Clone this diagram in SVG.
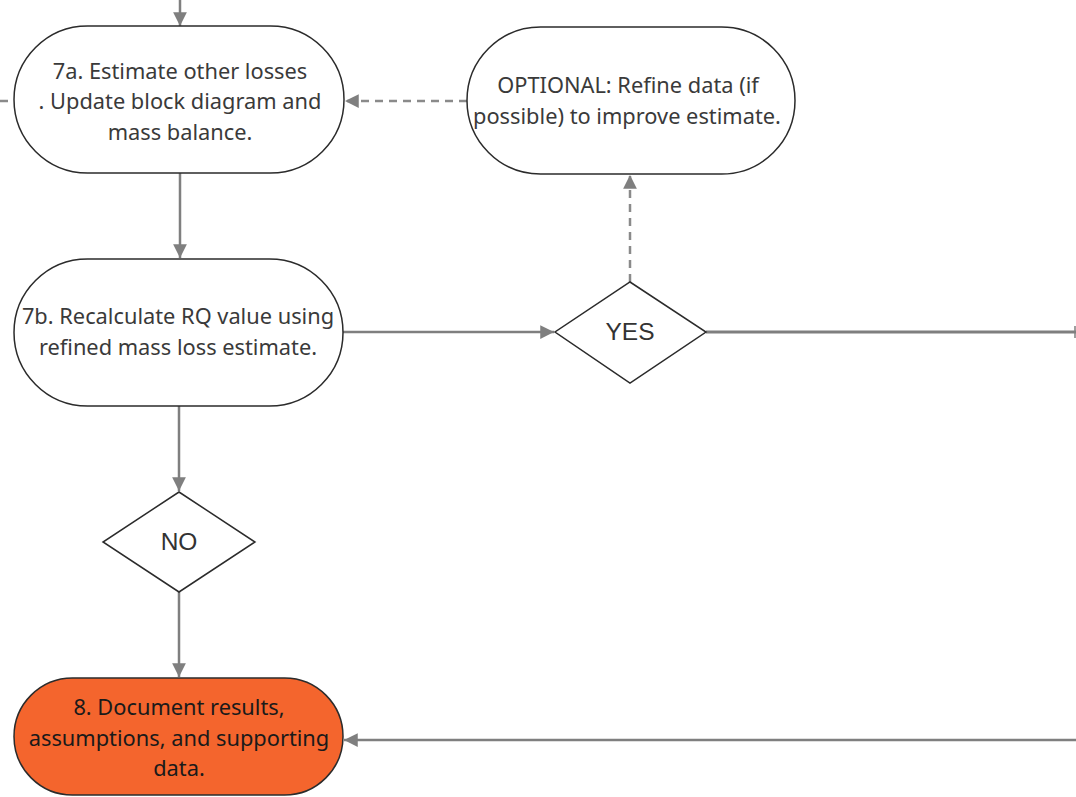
<svg xmlns="http://www.w3.org/2000/svg" width="1076" height="797" viewBox="0 0 1076 797">
<style>
.node{fill:#fff;stroke:#2b2b2b;stroke-width:1.5}
.orange{fill:#F4652D;stroke:#2b2b2b;stroke-width:1.5}
.t{font-family:"Noto Sans","Open Sans",sans-serif;font-size:21.8px;fill:#3a3a3a;text-anchor:middle}
.td{font-family:"Noto Sans","Open Sans",sans-serif;font-size:21.8px;fill:#1a1a1a;text-anchor:middle}
.dt{font-family:"Liberation Sans",Arial,sans-serif;font-size:24.5px;fill:#333;text-anchor:middle}
.c{fill:none;stroke:#7f7f7f;stroke-width:2.5}
.d{fill:none;stroke:#8a8a8a;stroke-width:2.5;stroke-dasharray:8 6}
</style>
<defs>
<marker id="ah" viewBox="0 0 10 10" refX="10" refY="5" markerWidth="5.5" markerHeight="5.5" markerUnits="strokeWidth" orient="auto">
<path d="M0,0 L10,5 L0,10 z" fill="#7f7f7f"/>
</marker>
</defs>
<g id="connectors">
<path class="c" d="M180,0 V26" marker-end="url(#ah)"/>
<path class="d" d="M0,101 H14"/>
<path class="d" d="M467,101 H345" marker-end="url(#ah)"/>
<path class="c" d="M180,173 V258" marker-end="url(#ah)"/>
<path class="c" d="M343,332 H554" marker-end="url(#ah)"/>
<path class="d" d="M630,282 V175" marker-end="url(#ah)"/>
<path class="c" d="M706,332 H1076" style="stroke-width:3"/>
<path class="c" d="M1075,326 V338" style="stroke-width:1.5"/>
<path class="c" d="M179,406 V491" marker-end="url(#ah)"/>
<path class="c" d="M179,592 V677" marker-end="url(#ah)"/>
<path class="c" d="M1076,740 H344" marker-end="url(#ah)"/>
</g>
<g id="n7a">
<rect class="node" x="14" y="26" width="330" height="147" rx="73.5"/>
<text class="t" x="180" y="79">7a. Estimate other losses</text>
<text class="t" x="180" y="109">. Update block diagram and</text>
<text class="t" x="180" y="140">mass balance.</text>
</g>
<g id="nopt">
<rect class="node" x="467" y="27" width="328" height="147" rx="73.5"/>
<text class="t" x="628" y="93">OPTIONAL: Refine data (if</text>
<text class="t" x="627" y="124">possible) to improve estimate.</text>
</g>
<g id="n7b">
<rect class="node" x="14" y="259" width="329" height="147" rx="73.5"/>
<text class="t" x="178" y="324">7b. Recalculate RQ value using</text>
<text class="t" x="178" y="355">refined mass loss estimate.</text>
</g>
<g id="nyes">
<path class="node" d="M630,282 L706,332 L630,383 L555,332 z"/>
<text class="dt" x="630" y="340">YES</text>
</g>
<g id="nno">
<path class="node" d="M179,492 L255,542 L179,592 L103,542 z"/>
<text class="dt" x="179" y="550">NO</text>
</g>
<g id="n8">
<rect class="orange" x="14" y="678" width="329" height="117" rx="58.5"/>
<text class="td" x="179" y="715">8. Document results,</text>
<text class="td" x="179" y="746">assumptions, and supporting</text>
<text class="td" x="179" y="776">data.</text>
</g>
</svg>
